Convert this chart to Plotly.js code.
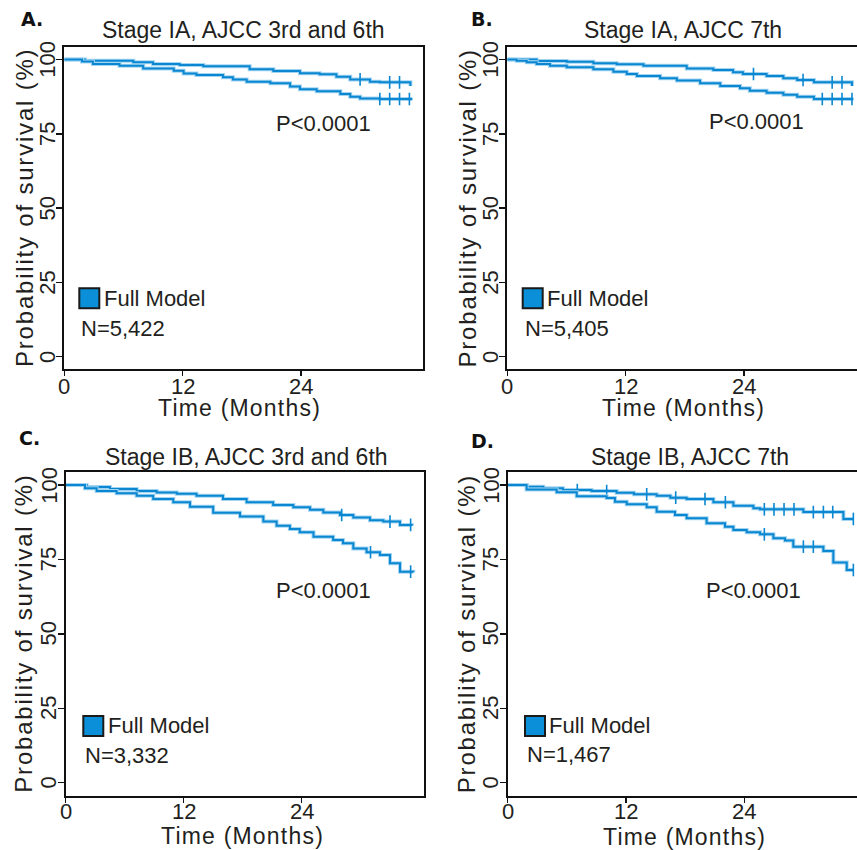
<!DOCTYPE html>
<html><head><meta charset="utf-8">
<script src="https://cdn.plot.ly/plotly-3.0.1.min.js"></script>
<style>html,body{margin:0;padding:0;background:#fff;}#chart{width:857px;height:850px;}</style>
</head><body><div id="chart"></div>
<script>
// ---------------- DATA ----------------
const xTickVals = [0, 12, 24];
const yTickVals = [0, 25, 50, 75, 100];
const panelTitles = ["Stage IA, AJCC 3rd and 6th", "Stage IA, AJCC 7th", "Stage IB, AJCC 3rd and 6th", "Stage IB, AJCC 7th"];
const panelLetters = ["A.", "B.", "C.", "D."];
const sampleSizes = ["N=5,422", "N=5,405", "N=3,332", "N=1,467"];
const pValues = ["P<0.0001", "P<0.0001", "P<0.0001", "P<0.0001"];
const legendLabel = "Full Model";
const xTitle = "Time (Months)";
const yTitle = "Probability of survival (%)";

// Panel A
const A_upper_t = [0, 2.1, 7.0, 9.0, 11.7, 14.1, 18.8, 21.2, 23.9, 25.9, 27.6, 29.0, 31.0, 32.0, 35.1];
const A_upper_s = [100, 99.6, 99.05, 98.5, 98.15, 97.7, 96.7, 96.1, 95.35, 95.0, 94.2, 93.3, 92.5, 92.3, 91.1];
const A_upper_cens = [30.0, 33.0, 34.0];
const A_lower_t = [0, 1.8, 2.9, 5.6, 8.0, 11.1, 12.1, 13.4, 16.1, 17.1, 18.5, 20.9, 22.9, 23.9, 25.6, 28.0, 29.0, 30.0, 32.0, 35.3];
const A_lower_s = [100, 99.3, 98.5, 97.9, 97.0, 96.2, 95.3, 94.8, 94.0, 93.3, 92.5, 92.0, 90.9, 90.0, 89.3, 88.4, 87.5, 86.9, 86.7, 86.7];
const A_lower_cens = [32.0, 33.0, 34.0, 35.0];

// Panel B
const B_upper_t = [0, 2.98, 6.03, 8.73, 11.1, 13.81, 18.2, 20.9, 22.9, 23.9, 26.3, 28.0, 29.4, 31.1, 34.96];
const B_upper_s = [100, 99.5, 99.2, 98.7, 98.4, 97.9, 97.0, 96.5, 95.7, 95.1, 94.4, 93.7, 93.1, 92.3, 91.1];
const B_upper_cens = [24.97, 30.0, 32.95, 33.95];
const B_lower_t = [0, 0.95, 1.97, 2.98, 4.33, 6.03, 8.73, 10.76, 12.12, 13.14, 15.5, 17.2, 19.56, 21.6, 23.6, 24.6, 26.3, 28.0, 29.4, 31.1, 35.1];
const B_lower_s = [100, 99.6, 99.05, 98.5, 97.9, 97.4, 96.7, 95.9, 95.1, 94.4, 93.7, 92.9, 92.0, 91.1, 90.3, 89.5, 88.8, 88.1, 87.5, 86.7, 86.7];
const B_lower_cens = [31.95, 32.95, 33.95, 34.96];

// Panel C
const C_upper_t = [0, 2.13, 4.5, 7.22, 9.25, 11.3, 13.3, 16.0, 18.4, 21.1, 23.15, 24.85, 26.2, 27.9, 29.25, 30.95, 32.3, 34.0, 35.2];
const C_upper_s = [100, 99.33, 98.66, 98.0, 97.5, 97.1, 96.4, 95.3, 94.2, 93.3, 92.5, 91.7, 90.8, 89.9, 89.1, 88.2, 87.7, 86.6, 86.3];
const C_upper_cens = [28.07, 32.98, 35.08];
const C_lower_t = [0, 1.96, 3.15, 5.18, 7.22, 8.9, 10.94, 12.64, 15.0, 17.73, 20.1, 21.45, 22.8, 23.8, 25.2, 27.2, 28.2, 29.25, 30.6, 31.96, 32.98, 34.0, 35.35];
const C_lower_s = [100, 98.9, 98.0, 97.2, 96.4, 95.3, 94.2, 92.7, 90.7, 89.4, 87.7, 86.3, 85.2, 84.1, 82.6, 81.5, 80.4, 78.7, 77.4, 76.5, 73.7, 70.9, 70.7];
const C_lower_cens = [31.0, 35.08];

// Panel D
const D_upper_t = [0, 1.92, 3.61, 5.6, 8.5, 11.05, 12.8, 15.11, 16.5, 18.15, 20.86, 22.89, 24.92, 25.6, 29.99, 34.05, 35.1];
const D_upper_s = [100, 99.44, 98.88, 98.32, 97.98, 97.4, 96.87, 96.4, 95.75, 95.3, 94.2, 93.06, 92.16, 91.83, 90.9, 88.6, 88.6];
const D_upper_cens = [7.06, 10.04, 14.1, 17.04, 20.01, 22.08, 26.03, 27.01, 28.03, 29.04, 31.0, 32.02, 32.97, 35.06];
const D_lower_t = [0, 1.92, 4.97, 7.0, 10.04, 10.88, 12.07, 14.1, 15.11, 16.97, 18.15, 20.18, 22.04, 22.89, 24.24, 25.6, 26.95, 28.13, 28.97, 32.02, 33.03, 34.39, 35.1];
const D_lower_s = [100, 98.5, 97.6, 96.2, 95.6, 94.4, 93.5, 92.5, 91.04, 89.92, 88.8, 87.13, 86.0, 84.88, 84.1, 83.43, 82.09, 81.4, 79.3, 77.8, 74.0, 71.45, 71.45];
const D_lower_cens = [26.03, 29.99, 31.0, 35.06];

// ---------------- STYLE / LAYOUT ----------------
const W = 857, H = 850;
const fx = p => p / W, fy = p => 1 - p / H;
const FONT = "Liberation Sans, Arial, Helvetica, sans-serif";
const BOLDFONT = "DejaVu Sans, Liberation Sans, Arial, sans-serif";
const TXT = "#231f20";
const LINE = "#0a87d0", HALO = "#a3d5f3";

const panels = [
  {left: 64.3, right: 423, top: 46.7, bottom: 369, xr: [0, 36.38], yr: [-4.14, 104.3], box: true,
   curves: [[A_upper_t, A_upper_s, A_upper_cens], [A_lower_t, A_lower_s, A_lower_cens]],
   title: [244, 30], letter: [19, 19], p: [323.5, 123.3], sq: [79.3, 288.3], fm: [101.7, 298.3], n: [79.3, 328.3],
   yt: [24, 208], xt: [240, 407.5], xtl: 386.7},
  {left: 507.3, right: 857, top: 46.7, bottom: 369, xr: [0, 35.47], yr: [-4.14, 104.3], box: false,
   curves: [[B_upper_t, B_upper_s, B_upper_cens], [B_lower_t, B_lower_s, B_lower_cens]],
   title: [683.3, 30], letter: [469, 19], p: [756.5, 121.3], sq: [522.7, 288.3], fm: [545, 298.3], n: [522.7, 328.3],
   yt: [466.5, 208], xt: [683, 407.5], xtl: 386.7},
  {left: 65.7, right: 424.3, top: 471.7, bottom: 795.7, xr: [0, 36.47], yr: [-4.37, 104.47], box: true,
   curves: [[C_upper_t, C_upper_s, C_upper_cens], [C_lower_t, C_lower_s, C_lower_cens]],
   title: [246.3, 456.5], letter: [17, 438], p: [323.5, 590], sq: [83.3, 716], fm: [106, 725.5], n: [83.3, 755],
   yt: [24, 633.7], xt: [242, 836], xtl: 811.8},
  {left: 507.7, right: 857, top: 472.3, bottom: 795.7, xr: [0, 35.43], yr: [-4.37, 104.27], box: false,
   curves: [[D_upper_t, D_upper_s, D_upper_cens], [D_lower_t, D_lower_s, D_lower_cens]],
   title: [690, 456.5], letter: [469, 441], p: [753.3, 590.5], sq: [525, 716], fm: [547.3, 725.5], n: [525, 754],
   yt: [466.5, 633.7], xt: [684.5, 837], xtl: 811.8}
];

function survAt(t, ts, ss) {
  let v = ss[0];
  for (let i = 0; i < ts.length; i++) { if (ts[i] <= t) v = ss[i]; }
  return v;
}

const traces = [];
const layout = {
  width: W, height: H, margin: {l: 0, r: 0, t: 0, b: 0},
  paper_bgcolor: "#fff", plot_bgcolor: "#fff", showlegend: false,
  font: {family: FONT, color: TXT, size: 22},
  annotations: [], shapes: []
};

panels.forEach((p, i) => {
  const k = i === 0 ? "" : String(i + 1);
  const xa = "x" + k, ya = "y" + k;
  layout["xaxis" + k] = {
    domain: [fx(p.left), fx(p.right)], range: p.xr, anchor: ya,
    tickvals: xTickVals, ticks: "outside", ticklen: 5, tickwidth: 1.5, tickcolor: "#111",
    showticklabels: false,
    showline: true, linewidth: 2, linecolor: "#111", mirror: true,
    showgrid: false, zeroline: false, fixedrange: true
  };
  layout["yaxis" + k] = {
    domain: [fy(p.bottom), fy(p.top)], range: p.yr, anchor: xa,
    tickvals: yTickVals, ticks: "outside", ticklen: 6, tickwidth: 1.5, tickcolor: "#111",
    showticklabels: false,
    showline: true, linewidth: 2, linecolor: "#111", mirror: p.box,
    showgrid: false, zeroline: false, fixedrange: true
  };
  p.curves.forEach(([ts, ss, cens]) => {
    traces.push({x: ts, y: ss, xaxis: xa, yaxis: ya, mode: "lines", line: {shape: "hv", color: HALO, width: 4}, hoverinfo: "skip"});
    traces.push({x: ts, y: ss, xaxis: xa, yaxis: ya, mode: "lines", line: {shape: "hv", color: LINE, width: 2}, hoverinfo: "skip"});
    traces.push({x: cens, y: cens.map(t => survAt(t, ts, ss)), xaxis: xa, yaxis: ya, mode: "markers",
      marker: {symbol: "line-ns", size: 9, line: {width: 1.6, color: LINE}}, hoverinfo: "skip"});
  });
  const A = layout.annotations;
  // tick labels placed on the axes' own scales
  xTickVals.forEach(v => A.push({xref: xa, yref: "paper", x: v, y: fy(p.xtl), xanchor: "center", yanchor: "middle",
    text: String(v), showarrow: false, font: {family: FONT, size: 22, color: TXT}}));
  yTickVals.forEach(v => A.push({xref: "paper", yref: ya, x: fx(p.left - 17), y: v, xanchor: "center", yanchor: "middle",
    textangle: -90, text: String(v), showarrow: false, font: {family: FONT, size: 22, color: TXT}}));
  A.push({xref: "paper", yref: "paper", x: fx(p.title[0]), y: fy(p.title[1]), xanchor: "center", yanchor: "middle",
    text: panelTitles[i], showarrow: false, font: {family: FONT, size: 23, color: TXT}});
  A.push({xref: "paper", yref: "paper", x: fx(p.letter[0]), y: fy(p.letter[1]), xanchor: "left", yanchor: "middle",
    text: "<b>" + panelLetters[i] + "</b>", showarrow: false, font: {family: BOLDFONT, size: 19, color: "#111"}});
  A.push({xref: "paper", yref: "paper", x: fx(p.p[0]), y: fy(p.p[1]), xanchor: "center", yanchor: "middle",
    text: pValues[i], showarrow: false, font: {family: FONT, size: 22, color: TXT}});
  A.push({xref: "paper", yref: "paper", x: fx(p.fm[0]), y: fy(p.fm[1]), xanchor: "left", yanchor: "middle",
    text: legendLabel, showarrow: false, font: {family: FONT, size: 22, color: TXT}});
  A.push({xref: "paper", yref: "paper", x: fx(p.n[0]), y: fy(p.n[1]), xanchor: "left", yanchor: "middle",
    text: sampleSizes[i], showarrow: false, font: {family: FONT, size: 22, color: TXT}});
  A.push({xref: "paper", yref: "paper", x: fx(p.yt[0]), y: fy(p.yt[1]), xanchor: "center", yanchor: "middle", textangle: -90,
    text: '<span style="letter-spacing:1.8px">' + yTitle + '</span>', showarrow: false, font: {family: FONT, size: 24, color: TXT}});
  A.push({xref: "paper", yref: "paper", x: fx(p.xt[0]), y: fy(p.xt[1]), xanchor: "center", yanchor: "middle",
    text: '<span style="letter-spacing:1.2px">' + xTitle + '</span>', showarrow: false, font: {family: FONT, size: 23, color: TXT}});
  layout.shapes.push({type: "rect", xref: "paper", yref: "paper",
    x0: fx(p.sq[0]), x1: fx(p.sq[0] + 20), y0: fy(p.sq[1] + 20), y1: fy(p.sq[1]),
    fillcolor: "#0a8fd8", line: {color: "#1a1a1a", width: 2}});
});

Plotly.newPlot("chart", traces, layout, {displayModeBar: false, staticPlot: true});
</script>
</body></html>
